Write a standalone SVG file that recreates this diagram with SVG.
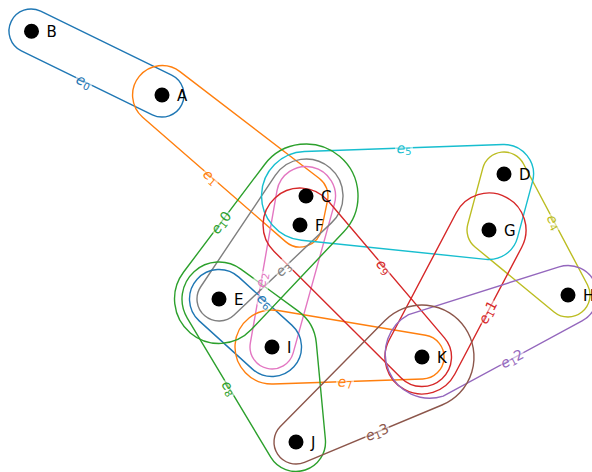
<svg xmlns="http://www.w3.org/2000/svg" width="592" height="472" viewBox="0 0 592 472">
<style>
.he{fill:none;stroke-width:1.4;stroke-linejoin:round}
.lb{font-family:"DejaVu Sans",sans-serif;font-size:14px;text-anchor:middle;dominant-baseline:central}
.lb .it{font-style:oblique}
.bg{fill:#fff;fill-opacity:0.55;stroke:none}
.nd{fill:#000}
.nl{font-family:"DejaVu Sans",sans-serif;font-size:15px;fill:#000}
.c0{stroke:#1f77b4;fill:#1f77b4}
.c1{stroke:#ff7f0e;fill:#ff7f0e}
.c2{stroke:#2ca02c;fill:#2ca02c}
.c3{stroke:#d62728;fill:#d62728}
.c4{stroke:#9467bd;fill:#9467bd}
.c5{stroke:#8c564b;fill:#8c564b}
.c6{stroke:#e377c2;fill:#e377c2}
.c7{stroke:#7f7f7f;fill:#7f7f7f}
.c8{stroke:#bcbd22;fill:#bcbd22}
.c9{stroke:#17becf;fill:#17becf}
path.he{fill:none}
text.lb{stroke:none}
</style>
<rect width="592" height="472" fill="#fff"/>
<g id="hyperedges">
<path id="e0" class="he c0" d="M40.66 11.23 L171.66 75.23 A22 22 0 0 1 152.34 114.77 L21.34 50.77 A22 22 0 0 1 40.66 11.23 Z"/>
<path id="e1" class="he c1" d="M179.95 71.59 L319.39 178.54 A22 22 0 0 1 327.54 200.46 L321.54 229.46 A22 22 0 0 1 285.56 241.60 L142.64 117.25 A29.5 29.5 0 0 1 179.95 71.59 Z"/>
<path id="e2" class="he c6" d="M276.94 190.92 A29.5 29.5 0 1 1 334.43 203.87 L293.20 352.87 A22 22 0 0 1 250.33 343.21 Z"/>
<path id="e3" class="he c7" d="M275.25 175.42 A37 37 0 1 1 331.43 222.87 L234.12 314.98 A22 22 0 0 1 200.72 286.76 Z"/>
<path id="e4" class="he c8" d="M523.45 163.71 L587.45 284.71 A22 22 0 0 1 554.02 311.99 L475.02 246.99 A22 22 0 0 1 467.75 224.31 L482.75 168.31 A22 22 0 0 1 523.45 163.71 Z"/>
<path id="e5" class="he c9" d="M304.43 151.53 L502.96 144.52 A29.5 29.5 0 0 1 532.50 181.63 L517.50 237.63 A29.5 29.5 0 0 1 485.97 259.34 L301.42 240.26 A44.5 44.5 0 0 1 304.43 151.53 Z"/>
<path id="e6" class="he c0" d="M238.80 277.13 L291.80 325.13 A29.5 29.5 0 0 1 252.20 368.87 L199.20 320.87 A29.5 29.5 0 0 1 238.80 277.13 Z"/>
<path id="e7" class="he c1" d="M278.13 310.51 L425.65 335.30 A22 22 0 0 1 422.73 378.99 L273.23 383.98 A37 37 0 1 1 278.13 310.51 Z"/>
<path id="e8" class="he c2" d="M240.82 269.12 L298.25 311.06 A44.5 44.5 0 0 1 316.31 342.83 L325.37 439.24 A29.5 29.5 0 0 1 270.70 457.17 L187.27 318.03 A37 37 0 0 1 240.82 269.12 Z"/>
<path id="e9" class="he c3" d="M328.20 201.04 L444.48 337.90 A29.5 29.5 0 0 1 401.19 377.91 L273.90 251.23 A37 37 0 1 1 328.20 201.04 Z"/>
<path id="e10" class="he c2" d="M264.47 164.71 A52 52 0 1 1 343.80 231.71 L251.34 329.56 A44.5 44.5 0 0 1 183.46 272.22 Z"/>
<path id="e11" class="he c3" d="M456.27 212.74 A37 37 0 0 1 521.73 247.26 L454.73 374.26 A37 37 0 0 1 389.27 339.74 Z"/>
<path id="e12" class="he c4" d="M408.56 314.58 L559.09 266.88 A29.5 29.5 0 0 1 582.05 320.94 L443.19 396.13 A44.5 44.5 0 0 1 408.56 314.58 Z"/>
<path id="e13" class="he c5" d="M280.34 426.55 L384.98 320.48 A52 52 0 1 1 442.00 405.00 L304.46 462.31 A22 22 0 0 1 280.34 426.55 Z"/>
</g>
<g id="edge-labels">
<g transform="translate(84,81.4) rotate(26)"><rect class="bg" x="-9" y="-8" width="18" height="16"/><text class="lb c0"><tspan class="it">e</tspan><tspan font-size="10" dy="3">0</tspan></text></g>
<g transform="translate(211,176.7) rotate(41)"><rect class="bg" x="-9" y="-8" width="18" height="16"/><text class="lb c1"><tspan class="it">e</tspan><tspan font-size="10" dy="3">1</tspan></text></g>
<g transform="translate(261.4,280) rotate(-80.1)"><rect class="bg" x="-9" y="-8" width="18" height="16"/><text class="lb c6"><tspan class="it">e</tspan><tspan font-size="10" dy="3">2</tspan></text></g>
<g transform="translate(283,268.7) rotate(-43.4)"><rect class="bg" x="-9" y="-8" width="18" height="16"/><text class="lb c7"><tspan class="it">e</tspan><tspan font-size="10" dy="3">3</tspan></text></g>
<g transform="translate(554.3,222) rotate(62.1)"><rect class="bg" x="-9" y="-8" width="18" height="16"/><text class="lb c8"><tspan class="it">e</tspan><tspan font-size="10" dy="3">4</tspan></text></g>
<g transform="translate(404,148) rotate(-2)"><rect class="bg" x="-9" y="-8" width="18" height="16"/><text class="lb c9"><tspan class="it">e</tspan><tspan font-size="10" dy="3">5</tspan></text></g>
<g transform="translate(265,300.9) rotate(42.2)"><rect class="bg" x="-9" y="-8" width="18" height="16"/><text class="lb c0"><tspan class="it">e</tspan><tspan font-size="10" dy="3">6</tspan></text></g>
<g transform="translate(345,381.6) rotate(-1.9)"><rect class="bg" x="-9" y="-8" width="18" height="16"/><text class="lb c1"><tspan class="it">e</tspan><tspan font-size="10" dy="3">7</tspan></text></g>
<g transform="translate(229.2,388) rotate(59)"><rect class="bg" x="-9" y="-8" width="18" height="16"/><text class="lb c2"><tspan class="it">e</tspan><tspan font-size="10" dy="3">8</tspan></text></g>
<g transform="translate(384,266.7) rotate(49.6)"><rect class="bg" x="-9" y="-8" width="18" height="16"/><text class="lb c3"><tspan class="it">e</tspan><tspan font-size="10" dy="3">9</tspan></text></g>
<g transform="translate(221,222.5) rotate(-53)"><rect class="bg" x="-13" y="-8" width="26" height="16"/><text class="lb c2"><tspan class="it">e</tspan><tspan font-size="10" dy="3">1</tspan><tspan dy="-3">0</tspan></text></g>
<g transform="translate(487.6,312) rotate(-62.2)"><rect class="bg" x="-13" y="-8" width="26" height="16"/><text class="lb c3"><tspan class="it">e</tspan><tspan font-size="10" dy="3">1</tspan><tspan dy="-3">1</tspan></text></g>
<g transform="translate(512,358.6) rotate(-28.4)"><rect class="bg" x="-13" y="-8" width="26" height="16"/><text class="lb c4"><tspan class="it">e</tspan><tspan font-size="10" dy="3">1</tspan><tspan dy="-3">2</tspan></text></g>
<g transform="translate(377,432.1) rotate(-22.6)"><rect class="bg" x="-13" y="-8" width="26" height="16"/><text class="lb c5"><tspan class="it">e</tspan><tspan font-size="10" dy="3">1</tspan><tspan dy="-3">3</tspan></text></g>
</g>
<g id="node-A"><circle class="nd" cx="162" cy="95" r="7.5"/><text class="nl" x="177" y="100.5">A</text></g>
<g id="node-B"><circle class="nd" cx="31.5" cy="31.3" r="7.5"/><text class="nl" x="46.5" y="36.8">B</text></g>
<g id="node-C"><circle class="nd" cx="306" cy="196" r="7.5"/><text class="nl" x="321" y="201.5">C</text></g>
<g id="node-F"><circle class="nd" cx="300" cy="225" r="7.5"/><text class="nl" x="315" y="230.5">F</text></g>
<g id="node-D"><circle class="nd" cx="504" cy="174" r="7.5"/><text class="nl" x="519" y="179.5">D</text></g>
<g id="node-G"><circle class="nd" cx="489" cy="230" r="7.5"/><text class="nl" x="504" y="235.5">G</text></g>
<g id="node-H"><circle class="nd" cx="568" cy="295" r="7.5"/><text class="nl" x="583" y="300.5">H</text></g>
<g id="node-E"><circle class="nd" cx="219" cy="299" r="7.5"/><text class="nl" x="234" y="304.5">E</text></g>
<g id="node-I"><circle class="nd" cx="272" cy="347" r="7.5"/><text class="nl" x="287" y="352.5">I</text></g>
<g id="node-K"><circle class="nd" cx="422" cy="357" r="7.5"/><text class="nl" x="437" y="362.5">K</text></g>
<g id="node-J"><circle class="nd" cx="296" cy="442" r="7.5"/><text class="nl" x="311" y="447.5">J</text></g>
</svg>
